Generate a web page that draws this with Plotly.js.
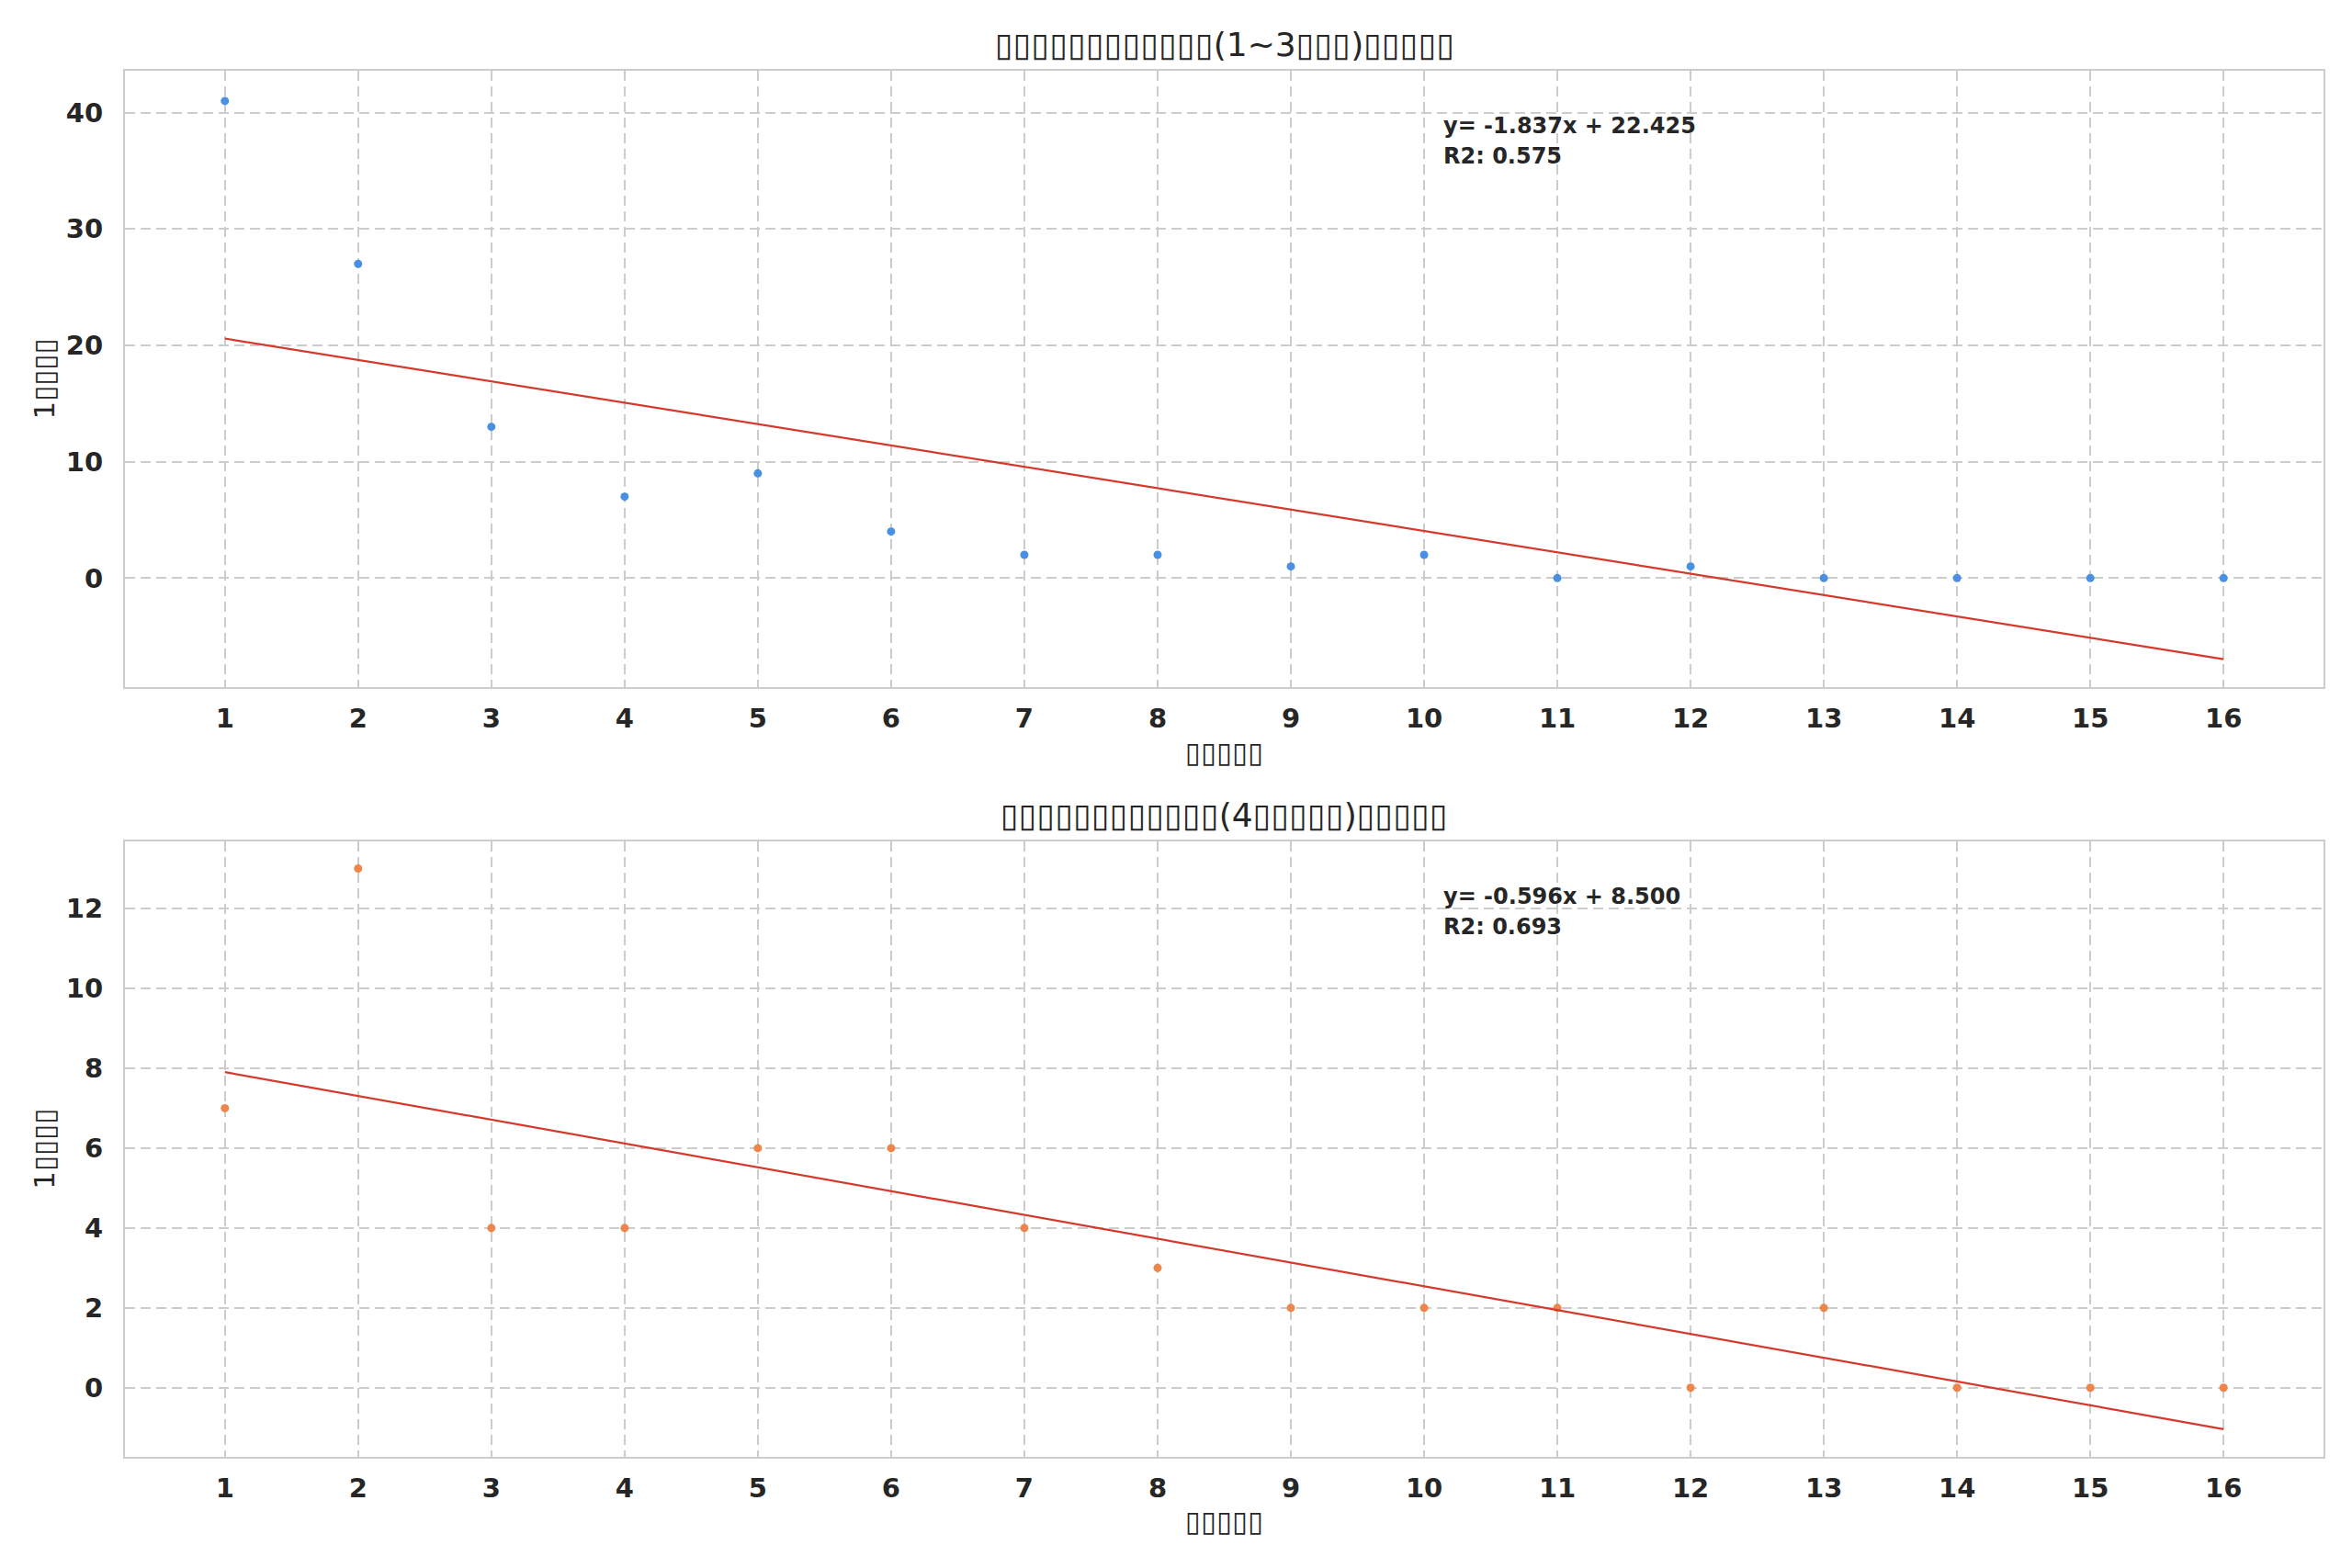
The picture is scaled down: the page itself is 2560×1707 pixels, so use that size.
<!DOCTYPE html>
<html>
<head>
<meta charset="utf-8">
<script src="https://cdn.plot.ly/plotly-3.0.1.min.js"></script>
<style>
  html, body { margin: 0; padding: 0; background: #ffffff; }
  #chart { width: 2560px; height: 1707px; }
</style>
</head>
<body>
<div id="chart"></div>
<script>
// years since ... (x categories 1..16)
const xValues = [1, 2, 3, 4, 5, 6, 7, 8, 9, 10, 11, 12, 13, 14, 15, 16];

// group 1 (1~3) counts
const countsA = [41, 27, 13, 7, 9, 4, 2, 2, 1, 2, 0, 1, 0, 0, 0, 0];
// group 2 (4...) counts
const countsB = [7, 13, 4, 4, 6, 6, 4, 3, 2, 2, 2, 0, 2, 0, 0, 0];

// fitted line, as printed on the chart
const slopeA = -1.837, interceptA = 22.425, r2A = 0.575;
const slopeB = -0.596, interceptB = 8.500, r2B = 0.693;

// labels (the glyphs in the source picture are missing-glyph boxes)
const titleA = "▯▯▯▯▯▯▯▯▯▯▯▯(1~3▯▯▯)▯▯▯▯▯";
const titleB = "▯▯▯▯▯▯▯▯▯▯▯▯(4▯▯▯▯▯)▯▯▯▯▯";
const xLabel = "▯▯▯▯▯";
const yLabel = "1▯▯▯▯";

const FONT = "DejaVu Sans";
const TEXT = "#262626";

function trendEnds(slope, intercept) {
  const x0 = xValues[0], x1 = xValues[xValues.length - 1];
  return { x: [x0, x1], y: [slope * x0 + intercept, slope * x1 + intercept] };
}

const lineA = trendEnds(slopeA, interceptA);
const lineB = trendEnds(slopeB, interceptB);

const traces = [
  { x: xValues, y: countsA, type: "scatter", mode: "markers",
    marker: { color: "#4a90e2", size: 9 }, xaxis: "x", yaxis: "y" },
  { x: lineA.x, y: lineA.y, type: "scatter", mode: "lines",
    line: { color: "#d5392b", width: 2.2 }, xaxis: "x", yaxis: "y" },
  { x: xValues, y: countsB, type: "scatter", mode: "markers",
    marker: { color: "#ee854a", size: 9 }, xaxis: "x2", yaxis: "y2" },
  { x: lineB.x, y: lineB.y, type: "scatter", mode: "lines",
    line: { color: "#d5392b", width: 2.2 }, xaxis: "x2", yaxis: "y2" },
];

function xAxis(anchor) {
  return {
    anchor: anchor,
    range: [0.25, 16.75],
    tickmode: "array",
    tickvals: xValues,
    ticktext: xValues.map(String),
    ticks: "",
    ticklabelstandoff: 7,
    tickfont: { family: FONT, size: 29, color: TEXT, weight: "bold" },
    showgrid: true,
    gridcolor: "#cccccc",
    gridwidth: 2,
    griddash: "11px,6px",
    zeroline: false,
    showline: true,
    mirror: true,
    linecolor: "#cccccc",
    linewidth: 2,
    title: { text: xLabel, font: { family: FONT, size: 31, color: TEXT }, standoff: 10 },
  };
}

function yAxis(anchor, domain, range, dtick) {
  return {
    anchor: anchor,
    domain: domain,
    range: range,
    dtick: dtick,
    tick0: 0,
    ticks: "",
    ticklabelstandoff: 16,
    tickfont: { family: FONT, size: 29, color: TEXT, weight: "bold" },
    showgrid: true,
    gridcolor: "#cccccc",
    gridwidth: 2,
    griddash: "11px,6px",
    zeroline: false,
    showline: true,
    mirror: true,
    linecolor: "#cccccc",
    linewidth: 2,
    title: { text: yLabel, font: { family: FONT, size: 31, color: TEXT }, standoff: 3 },
  };
}

function noteLine(xref, yref, y, text) {
  return {
    xref: xref + " domain", yref: yref + " domain",
    x: 0.599, y: y, xanchor: "left", yanchor: "middle", align: "left",
    showarrow: false, text: text,
    font: { family: FONT, size: 24, color: TEXT, weight: "bold" },
  };
}

function fitNote(xref, yref, slope, intercept, r2) {
  return [
    noteLine(xref, yref, 0.910, "y= " + slope.toFixed(3) + "x + " + intercept.toFixed(3)),
    noteLine(xref, yref, 0.861, "R2: " + r2.toFixed(3)),
  ];
}

function panelTitle(xref, yref, text) {
  return {
    xref: xref + " domain", yref: yref + " domain",
    x: 0.5, y: 1, xanchor: "center", yanchor: "bottom", yshift: 6,
    showarrow: false, text: text,
    font: { family: FONT, size: 36, color: TEXT },
  };
}

const layout = {
  width: 2560,
  height: 1707,
  margin: { l: 136, r: 31, t: 77, b: 121 },
  paper_bgcolor: "#ffffff",
  plot_bgcolor: "#ffffff",
  showlegend: false,
  xaxis: xAxis("y"),
  yaxis: yAxis("x", [0.5553, 1], [-9.37, 43.6], 10),
  xaxis2: xAxis("y2"),
  yaxis2: yAxis("x2", [0, 0.4443], [-1.73, 13.69], 2),
  annotations: [
    panelTitle("x", "y", titleA),
    panelTitle("x2", "y2", titleB),
    ...fitNote("x", "y", slopeA, interceptA, r2A),
    ...fitNote("x2", "y2", slopeB, interceptB, r2B),
  ],
};

Plotly.newPlot("chart", traces, layout, { displayModeBar: false, staticPlot: true });
</script>
</body>
</html>
